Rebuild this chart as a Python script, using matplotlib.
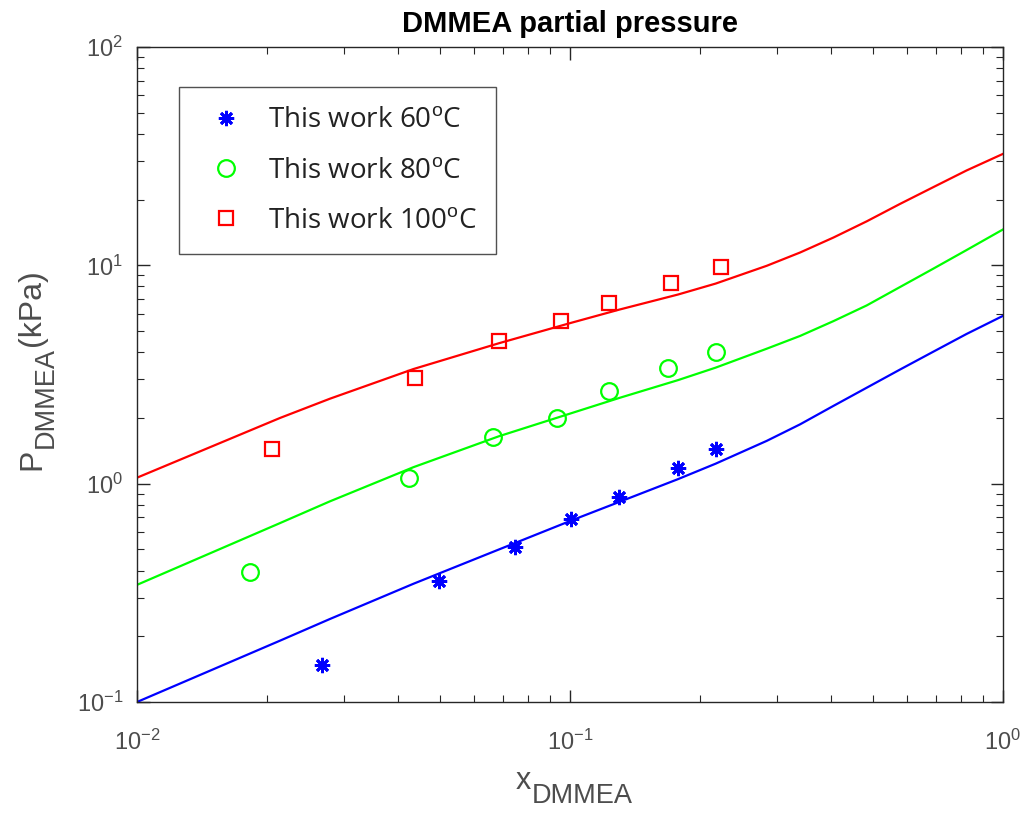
import matplotlib
matplotlib.use("Agg")
import matplotlib.pyplot as plt
from matplotlib.ticker import LogLocator, LogFormatterMathtext, NullFormatter

plt.rcParams["font.family"] = ["Liberation Sans", "DejaVu Sans"]
plt.rcParams["mathtext.fontset"] = "custom"
plt.rcParams["mathtext.rm"] = "Liberation Sans"
plt.rcParams["mathtext.it"] = "Liberation Sans"
plt.rcParams["mathtext.bf"] = "Liberation Sans:bold"

# Measured partial pressures (kPa) vs liquid mole fraction
x_60 = [0.0267, 0.0498, 0.0746, 0.1005, 0.130, 0.1776, 0.217]
p_60 = [0.148, 0.358, 0.513, 0.689, 0.869, 1.18, 1.44]

x_80 = [0.0182, 0.0425, 0.0664, 0.0933, 0.123, 0.168, 0.217]
p_80 = [0.395, 1.06, 1.64, 2.00, 2.66, 3.39, 4.01]

x_100 = [0.0205, 0.0439, 0.0686, 0.0953, 0.123, 0.171, 0.223]
p_100 = [1.44, 3.05, 4.50, 5.56, 6.72, 8.30, 9.84]

# Model curves
x_model = [0.01, 0.0214, 0.0279, 0.0435, 0.0686, 0.1005, 0.130, 0.1776, 0.217,
           0.2846, 0.340, 0.4057, 0.4843, 0.578, 0.690, 0.824, 1.0]
p_model_60 = [0.100, 0.191, 0.240, 0.348, 0.500, 0.677, 0.825, 1.049, 1.235,
              1.57, 1.87, 2.27, 2.75, 3.33, 4.02, 4.85, 5.87]
p_model_80 = [0.344, 0.660, 0.830, 1.19, 1.65, 2.10, 2.47, 2.98, 3.40,
              4.15, 4.75, 5.55, 6.55, 7.95, 9.65, 11.75, 14.6]
p_model_100 = [1.065, 2.00, 2.45, 3.35, 4.40, 5.45, 6.27, 7.35, 8.25,
               9.95, 11.45, 13.4, 15.9, 19.1, 22.8, 27.2, 32.4]

labels = ["This work 60$^{\\mathrm{o}}$C", "This work 80$^{\\mathrm{o}}$C",
          "This work 100$^{\\mathrm{o}}$C"]

W, H = 1027, 814
fig = plt.figure(figsize=(W / 100, H / 100), dpi=100)
ax = fig.add_axes([137 / W, 1 - 702 / H, 866 / W, 655 / H])

ax.plot(x_60, p_60, linestyle="none", marker=(8, 2, 0), markersize=11,
        markeredgewidth=2.0, color="#0000ff", label=labels[0])
ax.plot(x_80, p_80, linestyle="none", marker="o", markersize=12,
        markerfacecolor="none", markeredgewidth=1.6, color="#00ff00", label=labels[1])
ax.plot(x_100, p_100, linestyle="none", marker="s", markersize=9.5,
        markerfacecolor="none", markeredgewidth=1.6, color="#ff0000", label=labels[2])

ax.plot(x_model, p_model_60, color="#0000ff", linewidth=1.6)
ax.plot(x_model, p_model_80, color="#00ff00", linewidth=1.6)
ax.plot(x_model, p_model_100, color="#ff0000", linewidth=1.6)

ax.set_xscale("log")
ax.set_yscale("log")
ax.set_xlim(1e-2, 1e0)
ax.set_ylim(1e-1, 1e2)

axis_gray = "#262626"
label_gray = "#4d4d4d"
for sp in ax.spines.values():
    sp.set_color(axis_gray)
    sp.set_linewidth(1.0)

for axis in (ax.xaxis, ax.yaxis):
    axis.set_major_locator(LogLocator(base=10, numticks=10))
    axis.set_minor_locator(LogLocator(base=10, subs=range(2, 10), numticks=10))
    axis.set_major_formatter(LogFormatterMathtext())
    axis.set_minor_formatter(NullFormatter())

ax.tick_params(which="both", direction="in", top=True, right=True,
               colors=axis_gray, labelcolor=label_gray, labelsize=17)
ax.tick_params(which="major", length=9, width=1.0)
ax.tick_params(which="minor", length=5, width=0.8)
ax.tick_params(axis="x", which="major", pad=20)
ax.tick_params(axis="y", which="major", pad=10)

ax.set_title("DMMEA partial pressure", fontsize=21, fontweight="bold",
             color="black", pad=10.5)

leg = ax.legend(loc="upper left", bbox_to_anchor=(42 / 866, 1 - 40 / 655),
                borderaxespad=0, frameon=True, fancybox=False,
                prop={"family": ["Open Sans", "DejaVu Sans"], "size": 20},
                labelspacing=0.8, handlelength=2.0, handletextpad=0.5,
                borderpad=0.7)
leg.get_frame().set_edgecolor(axis_gray)
leg.get_frame().set_linewidth(1.0)
for t in leg.get_texts():
    t.set_color("#222222")

# Axis labels with a full-height subscript, laid out piece by piece in pixels
renderer = fig.canvas.get_renderer()


def px(x, y_top):
    return x / W, 1 - y_top / H


def label_pieces(pieces, x0, y0, rotated):
    pos = 0.0
    for text, size, drop in pieces:
        if rotated:
            fx, fy = px(x0 + drop, y0 - pos)
            t = fig.text(fx, fy, text, fontsize=size, color=label_gray,
                         rotation=90, rotation_mode="anchor",
                         ha="left", va="baseline")
            pos += t.get_window_extent(renderer).height + 1
        else:
            fx, fy = px(x0 + pos, y0 + drop)
            t = fig.text(fx, fy, text, fontsize=size, color=label_gray,
                         ha="left", va="baseline")
            pos += t.get_window_extent(renderer).width + 1


label_pieces([("x", 22, 0), ("DMMEA", 19.5, 14)], 516, 789, rotated=False)
label_pieces([("P", 23, 0), ("DMMEA", 19.5, 13), ("(kPa)", 23, 0)], 40, 470, rotated=True)

fig.savefig("out.png", dpi=100, facecolor="white")
